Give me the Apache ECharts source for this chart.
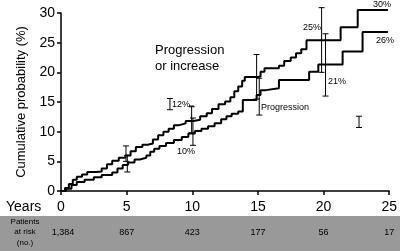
<!DOCTYPE html>
<html>
<head>
<meta charset="utf-8">
<script src="https://cdn.jsdelivr.net/npm/echarts@6/dist/echarts.min.js"></script>
<style>
  html, body { margin: 0; padding: 0; background: #fff; }
  #chart { width: 400px; height: 251px; }
</style>
</head>
<body>
<div id="chart"></div>
<script>
// cumulative probability (%) by years
var progressionOrIncrease = [
  [0, 0], [0.3, 0.5], [0.6, 1.2], [0.9, 1.9], [1.2, 2.4], [1.6, 2.8], [2.0, 3.2],
  [2.7, 3.3], [3.1, 3.8], [3.5, 4.5], [3.9, 5.1], [4.4, 5.6], [4.9, 6.0], [5.3, 6.7],
  [5.7, 7.4], [6.2, 7.8], [6.6, 8.0], [7.0, 8.7], [7.4, 9.4], [7.8, 10.0], [8.2, 10.5],
  [8.6, 11.1], [9.0, 11.4], [9.5, 11.8], [10.1, 12.0], [10.6, 12.6], [11.1, 13.1],
  [11.5, 13.8], [12.0, 14.6], [12.5, 15.1], [12.9, 15.8], [13.2, 16.8], [13.5, 17.6],
  [13.8, 18.6], [14.0, 19.2], [15.0, 19.3], [15.2, 20.1], [15.5, 20.7], [16.6, 21.1],
  [17.0, 21.9], [17.5, 22.5], [17.9, 23.2], [18.3, 23.9], [18.7, 25.4], [21.3, 27.6],
  [22.6, 30.5], [24.9, 30.5]
];
var progression = [
  [0, 0], [0.4, 0.4], [0.8, 1.0], [1.2, 1.5], [1.8, 1.9], [2.5, 2.3], [3.1, 2.7],
  [3.9, 3.1], [4.3, 3.8], [4.7, 4.4], [5.1, 4.8], [5.6, 5.3], [6.0, 5.6], [6.5, 6.0],
  [6.8, 6.6], [7.1, 7.1], [7.5, 7.6], [8.0, 8.1], [8.6, 8.6], [9.2, 9.1], [9.7, 9.7],
  [10.2, 10.1], [10.7, 10.5], [11.2, 10.9], [11.7, 11.4], [12.2, 12.1], [12.6, 12.6],
  [13.0, 13.0], [13.5, 13.4], [13.85, 15.35], [14.9, 16.2], [15.2, 17.0], [15.6, 17.3],
  [16.6, 18.7], [18.9, 20.1], [19.6, 21.3], [21.45, 23.5], [22.97, 26.8], [24.9, 26.8]
];

// confidence bars: [year, low, high]
var ciIncrease = [[4.95, 5.0, 7.6], [9.95, 9.8, 14.2], [14.9, 15.5, 23.0], [19.85, 20.0, 30.9]];
var ciProgression = [[5.05, 3.2, 6.0], [10.05, 7.7, 12.3], [15.1, 12.8, 19.0], [20.15, 16.0, 26.5]];
var strayBars = [[8.3, 13.7, 15.6], [22.7, 10.7, 12.6]];

var riskYears = [0, 5, 10, 15, 20, 25];
var riskCounts = ['1,384', '867', '423', '177', '56', '17'];

var font = 'Liberation Sans, Arial, sans-serif';

var chart = echarts.init(document.getElementById('chart'), null, { renderer: 'canvas' });

function renderBar(params, api) {
  var top = api.coord([api.value(0), api.value(2)]);
  var bot = api.coord([api.value(0), api.value(1)]);
  var cap = 3;
  var st = { stroke: '#000', lineWidth: 1 };
  return {
    type: 'group',
    children: [
      { type: 'line', shape: { x1: top[0], y1: top[1], x2: bot[0], y2: bot[1] }, style: st },
      { type: 'line', shape: { x1: top[0] - cap, y1: top[1], x2: top[0] + cap, y2: top[1] }, style: st },
      { type: 'line', shape: { x1: bot[0] - cap, y1: bot[1], x2: bot[0] + cap, y2: bot[1] }, style: st }
    ]
  };
}

function txt(x, y, s, size, align) {
  return {
    type: 'text', z: 10, x: x, y: y,
    style: { text: s, fill: '#000', font: size + 'px ' + font, textAlign: align || 'left', textVerticalAlign: 'middle' }
  };
}

var option = {
  animation: false,
  backgroundColor: '#fff',
  grid: { left: 61, right: 10, top: 13, bottom: 60 },
  xAxis: {
    type: 'value', min: 0, max: 25, interval: 5,
    axisLine: { lineStyle: { color: '#000', width: 1.5 } },
    axisTick: { show: true, length: 4, lineStyle: { color: '#000', width: 1.5 } },
    axisLabel: { color: '#000', fontSize: 14, fontFamily: font, margin: 9 },
    splitLine: { show: false }
  },
  yAxis: {
    type: 'value', min: 0, max: 30, interval: 5,
    name: 'Cumulative probability (%)',
    nameLocation: 'middle', nameGap: 33, nameRotate: 90,
    nameTextStyle: { color: '#000', fontSize: 13, fontFamily: font },
    axisLine: { show: true, lineStyle: { color: '#000', width: 1.5 } },
    axisTick: { show: true, length: 4, lineStyle: { color: '#000', width: 1.5 } },
    axisLabel: { color: '#000', fontSize: 14, fontFamily: font, margin: 6 },
    splitLine: { show: false }
  },
  series: [
    {
      name: 'Progression or increase', type: 'line', step: 'end', data: progressionOrIncrease,
      showSymbol: false, clip: false, lineStyle: { color: '#000', width: 2 }
    },
    {
      name: 'Progression', type: 'line', step: 'end', data: progression,
      showSymbol: false, clip: false, lineStyle: { color: '#000', width: 2 }
    },
    { type: 'custom', renderItem: renderBar, data: ciIncrease, clip: false, z: 5 },
    { type: 'custom', renderItem: renderBar, data: ciProgression, clip: false, z: 5 },
    { type: 'custom', renderItem: renderBar, data: strayBars, clip: false, z: 5 }
  ]
};
chart.setOption(option);

// gray "patients at risk" band and annotations
var graphics = [
  { type: 'rect', shape: { x: 0, y: 216, width: 400, height: 35 }, style: { fill: '#999999' }, z: 0 },
  txt(6, 207, 'Years', 14),
  txt(25, 222, 'Patients', 8, 'center'),
  txt(25, 232, 'at risk', 8, 'center'),
  txt(25, 243, '(no.)', 8, 'center'),
  txt(155, 50, 'Progression', 13),
  txt(155, 66, 'or increase', 13),
  txt(261, 108, 'Progression', 9),
  txt(172, 105, '12%', 9),
  txt(177, 152, '10%', 9),
  txt(303, 28, '25%', 9),
  txt(328, 82, '21%', 9),
  txt(373, 5, '30%', 9),
  txt(376, 41, '26%', 9),
  { type: 'line', shape: { x1: 189, y1: 106, x2: 194, y2: 106 }, style: { stroke: '#000', lineWidth: 1 }, z: 10 }
];
for (var i = 0; i < riskYears.length; i++) {
  var px = chart.convertToPixel({ xAxisIndex: 0 }, riskYears[i]);
  graphics.push(txt(i === 0 ? px + 2 : px, 233, riskCounts[i], 9, 'center'));
}
chart.setOption({ graphic: graphics });
</script>
</body>
</html>
